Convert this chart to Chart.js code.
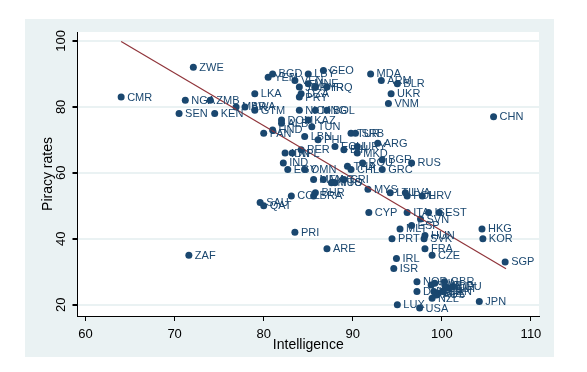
<!DOCTYPE html>
<html>
<head>
<meta charset="utf-8">
<script src="https://cdn.jsdelivr.net/npm/chart.js@4.4.1/dist/chart.umd.min.js"></script>
<style>
  html, body { margin: 0; padding: 0; background: #ffffff; }
  #wrap { position: relative; width: 587px; height: 372px; }
  #bg { position: absolute; left: 25px; top: 19px; width: 529px; height: 338px; background: #eaf2f3; }
  canvas { position: absolute; left: 0; top: 0; }
</style>
</head>
<body>
<div id="wrap">
  <div id="bg"></div>
  <canvas id="chart" width="587" height="372"></canvas>
</div>
<script>
// country codes, intelligence (x) and piracy rate (y)
const countries = [
  "CMR","ZWE","NGA","ZMB","SEN","KEN","ZAF","MAR","BWA","GTM",
  "LKA","BGD","YEM","VEN","MNE","JOR","SYR","IRQ","DZA","PRY",
  "LBY","GEO","MDA","ARM","BLR","UKR","VNM","CHN","NIC","MNG",
  "BOL","DOM","ALB","KAZ","TUN","HND","PAN","LBN","PHL","TUR",
  "SRB","ARG","ECU","BIH","URY","MKD","PER","IDN","NPL","BGR",
  "ROU","RUS","IND","EGY","OMN","THA","CHL","GRC","MEX","MAC",
  "MUS","TTO","CRI","MYS","LTU","LVA","POL","HRV","COL","BRA",
  "BHR","SAU","QAT","CYP","ITA","ISL","EST","SVN","ESP","MLT",
  "HKG","KOR","PRT","SVK","HUN","PRI","ARE","FRA","CZE","IRL",
  "ISR","SGP","NOR","DNK","SWE","FIN","GBR","AUT","DEU","CHE",
  "BEL","CAN","AUS","NLD","NZL","JPN","LUX","USA"
];
const intelligence = [
  64.0, 72.1, 71.2, 74.0, 70.5, 74.5, 71.6, 76.9, 77.9, 79.0,
  79.0, 81.0, 80.5, 83.5, 85.0, 84.0, 85.8, 87.1, 84.2, 84.0,
  85.0, 86.7, 92.0, 93.2, 95.0, 94.3, 94.0, 105.8, 84.0, 85.8,
  87.1, 82.0, 82.0, 85.0, 85.4, 81.0, 80.0, 84.6, 86.1, 89.8,
  90.3, 92.8, 88.0, 89.0, 90.5, 90.5, 84.2, 82.4, 83.2, 93.3,
  91.1, 96.6, 82.2, 82.7, 84.6, 89.4, 89.8, 93.3, 85.6, 86.7,
  87.6, 88.0, 89.0, 91.7, 94.2, 95.9, 96.1, 97.8, 83.1, 85.6,
  85.8, 79.6, 80.0, 91.8, 96.1, 98.5, 99.7, 97.6, 96.6, 95.3,
  104.5, 104.6, 94.4, 98.0, 98.1, 83.5, 87.1, 98.1, 98.9, 94.9,
  94.6, 107.1, 97.2, 97.2, 98.8, 99.2, 100.3, 100.8, 101.2, 99.1,
  99.6, 100.1, 99.4, 100.4, 98.9, 104.2, 95.0, 97.5
];
const piracy = [
  83, 92, 82, 82, 78, 78, 35, 80, 80, 79,
  84, 90, 89, 88, 87, 86, 86, 86, 84, 83,
  90, 91, 90, 88, 87, 84, 81, 77, 79, 79,
  79, 76, 75, 76, 74, 73, 72, 71, 70, 72,
  72, 69, 68, 67, 68, 66, 67, 66, 66, 64,
  63, 63, 63, 61, 61, 62, 61, 61, 58, 58,
  57, 57, 58, 55, 54, 54, 53, 53, 53, 53,
  54, 51, 50, 48, 48, 48, 48, 46, 44, 43,
  43, 40, 40, 40, 41, 42, 37, 37, 35, 34,
  31, 33, 27, 24, 26, 26.5, 27, 25, 25.5, 24,
  23.5, 24, 23, 25.5, 22, 21, 20, 19
];
// fitted line end points
const fitX = [64.0, 107.2];
const fitY = [99.8, 30.9];
const xTicks = [60, 70, 80, 90, 100, 110];
const yTicks = [20, 40, 60, 80, 100];

const NAVY = "#1a476f";
const FONT = '"Liberation Sans", Arial, sans-serif';

const points = intelligence.map((v, i) => ({ x: v, y: piracy[i] }));
const fitLine = fitX.map((v, i) => ({ x: v, y: fitY[i] }));

const extras = {
  id: "extras",
  beforeDraw(chart) {
    const { ctx, chartArea: a } = chart;
    ctx.save();
    ctx.fillStyle = "#ffffff";
    ctx.fillRect(a.left, a.top, a.right - a.left, a.bottom - a.top);
    ctx.restore();
  },
  afterDraw(chart) {
    const { ctx } = chart;
    const ys = chart.scales.y;
    ctx.save();
    ctx.fillStyle = "#000000";
    ctx.font = "13px " + FONT;
    ctx.textAlign = "center";
    ctx.textBaseline = "middle";
    yTicks.forEach(v => {
      const py = ys.getPixelForValue(v);
      ctx.save();
      ctx.translate(61, py);
      ctx.rotate(-Math.PI / 2);
      ctx.fillText(String(v), 0, 0);
      ctx.restore();
    });
    // point labels
    const meta = chart.getDatasetMeta(1);
    ctx.fillStyle = NAVY;
    ctx.font = "11px " + FONT;
    ctx.textAlign = "left";
    meta.data.forEach((el, i) => {
      ctx.fillText(countries[i], el.x + 6, el.y + 0.5);
    });
    ctx.restore();
  }
};

new Chart(document.getElementById("chart"), {
  type: "scatter",
  data: {
    datasets: [
      {
        type: "line",
        data: fitLine,
        borderColor: "#90353b",
        borderWidth: 1.2,
        pointRadius: 0,
        fill: false
      },
      {
        data: points,
        backgroundColor: NAVY,
        borderWidth: 0,
        pointRadius: 3.5
      }
    ]
  },
  options: {
    responsive: false,
    animation: false,
    events: [],
    layout: { padding: { left: 0, top: 32, right: 48, bottom: 0 } },
    plugins: { legend: { display: false }, tooltip: { enabled: false } },
    scales: {
      x: {
        type: "linear",
        min: 59.1,
        max: 110.9,
        afterBuildTicks: s => { s.ticks = xTicks.map(v => ({ value: v })); },
        afterFit: s => { s.height = 56; },
        grid: { drawOnChartArea: false, drawTicks: true, tickLength: 5, tickColor: "#000000" },
        border: { color: "#000000", width: 1 },
        ticks: { color: "#000000", font: { size: 13, family: FONT }, padding: 6, maxRotation: 0 },
        title: { display: true, text: "Intelligence", color: "#000000", font: { size: 14, family: FONT }, padding: { top: 0, bottom: 18 } }
      },
      y: {
        type: "linear",
        min: 16.6,
        max: 102.7,
        afterBuildTicks: s => { s.ticks = yTicks.map(v => ({ value: v })); },
        afterFit: s => { s.width = 77.5; },
        grid: { color: "#eaf2f3", lineWidth: 2, drawTicks: true, tickLength: 5, tickColor: "#000000" },
        border: { color: "#000000", width: 1 },
        ticks: { color: "rgba(0,0,0,0)", font: { size: 13, family: FONT } },
        title: { display: true, text: "Piracy rates", color: "#000000", font: { size: 14, family: FONT }, padding: { top: 40, bottom: 0 } }
      }
    }
  },
  plugins: [extras]
});
</script>
</body>
</html>
